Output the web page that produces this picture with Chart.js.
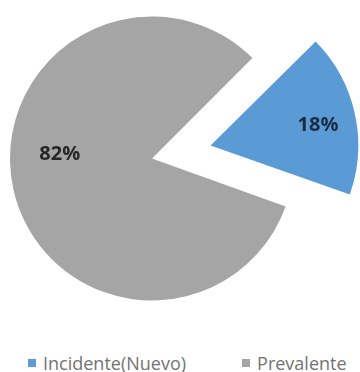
<!DOCTYPE html>
<html>
<head>
<meta charset="utf-8">
<script src="https://cdn.jsdelivr.net/npm/chart.js@4.4.1/dist/chart.umd.min.js"></script>
<style>
  body { margin: 0; background: #fff; }
  #caja { position: relative; width: 360px; height: 372px; overflow: hidden; }
  #lienzo { position: absolute; left: 0; top: 0; width: 360px; height: 317px; }
  #leyenda { position: absolute; left: 28px; top: 351px; margin: 0; padding: 0; list-style: none;
             display: flex; font: 18px "Open Sans", sans-serif; color: #737373; }
  #leyenda li { display: flex; align-items: center; white-space: nowrap; }
  #leyenda li + li { margin-left: 56px; }
  #leyenda span { display: inline-block; width: 8px; height: 8px; margin-right: 7px; }
</style>
</head>
<body>
<div id="caja">
  <div id="lienzo"><canvas id="torta"></canvas></div>
  <ul id="leyenda"></ul>
</div>
<script>
etiquetas = ["Incidente(Nuevo)", "Prevalente"]
porcentajes = [18, 82]

colores = ["#5B9BD5", "#A5A5A5"]
coloresTexto = ["#1b2b40", "#262626"]
separacion = [240, 0]   // el arco separado (Chart.js lo divide entre 4)

// escribe el porcentaje dentro de cada porcion
const etiquetasPorcentaje = {
	id: 'etiquetasPorcentaje',
	afterDatasetsDraw(chart, args, opts) {
		const ctx = chart.ctx;
		const meta = chart.getDatasetMeta(0);
		ctx.save();
		ctx.font = 'bold 20px "Open Sans"';
		ctx.textAlign = 'center';
		ctx.textBaseline = 'middle';
		meta.data.forEach((arco, i) => {
			const p = arco.getProps(['x', 'y', 'startAngle', 'endAngle', 'outerRadius']);
			const desplaz = (arco.options.offset || 0) / 4;
			const medio = (p.startAngle + p.endAngle) / 2;
			const giro = medio + opts.giro[i] * Math.PI / 180;
			const r = p.outerRadius * opts.radio[i];
			const x = p.x + Math.cos(medio) * desplaz + Math.cos(giro) * r;
			const y = p.y + Math.sin(medio) * desplaz + Math.sin(giro) * r;
			ctx.fillStyle = coloresTexto[i];
			ctx.fillText(porcentajes[i] + '%', x, y);
		});
		ctx.restore();
	}
};

const grafico = new Chart(document.getElementById('torta').getContext('2d'), {
	type: 'pie',
	data: {
		labels: etiquetas,
		datasets: [{
			data: porcentajes,
			backgroundColor: colores,
			borderWidth: 0,
			offset: separacion
		}]
	},
	options: {
		responsive: true,
		maintainAspectRatio: false,
		animation: false,
		rotation: 45,
		radius: 142,
		layout: { padding: { left: 0, right: 56, top: 0, bottom: 0 } },
		plugins: {
			legend: { display: false },
			tooltip: { enabled: false },
			etiquetasPorcentaje: { radio: [0.77, 0.65], giro: [2, 15] }
		}
	},
	plugins: [etiquetasPorcentaje]
});

// leyenda en html debajo de la torta
const items = grafico.options.plugins.legend.labels.generateLabels(grafico);
const lista = document.getElementById('leyenda');
items.forEach(item => {
	const li = document.createElement('li');
	const caja = document.createElement('span');
	caja.style.background = item.fillStyle;
	li.appendChild(caja);
	li.appendChild(document.createTextNode(item.text));
	lista.appendChild(li);
});
</script>
</body>
</html>
